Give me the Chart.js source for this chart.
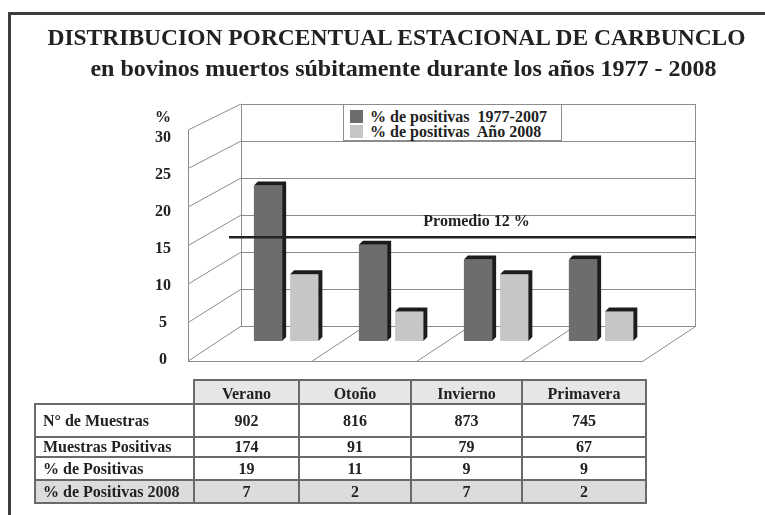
<!DOCTYPE html>
<html>
<head>
<meta charset="utf-8">
<script src="https://cdn.jsdelivr.net/npm/chart.js@4/dist/chart.umd.min.js"></script>
<style>
  body { margin: 0; background: #fff; }
  #wrap { position: relative; width: 765px; height: 515px; overflow: hidden;
          font-family: "Liberation Serif", "Times New Roman", serif; color: #222; }
  #chart { position: absolute; left: 0; top: 0; }
  .frame { position: absolute; background: #3d3d3d; }
  .title { position: absolute; left: 0; font-weight: bold; font-size: 23.5px; line-height: 23.5px;
           text-align: center; white-space: nowrap; }
  #legend { position: absolute; left: 343px; top: 104px; width: 217px; height: 35px;
            border: 1px solid #8c8c8c; background: #fff; }
  .item { position: absolute; left: 6px; font-weight: bold; font-size: 16px; line-height: 15px;
          white-space: pre; padding-left: 20px; }
  .sw { position: absolute; left: 0; top: 1px; width: 13px; height: 13px; }
  table { position: absolute; left: 34px; top: 379px; border-collapse: collapse; table-layout: fixed;
          font-weight: bold; font-size: 16px; }
  td { border: 2px solid #6a6a6a; text-align: center; padding: 0; white-space: nowrap; }
  td.lab { text-align: left; padding-left: 7px; }
  tr.head td { background: #e6e6e6; padding-top: 4px; }
  tr.head td.blank { background: none; border-top: none; border-left: none; }
  tr.last td { background: #dcdcdc; }
</style>
</head>
<body>
<div id="wrap">
  <canvas id="chart" width="765" height="515"></canvas>
  <div class="frame" style="left:8px; top:12px; width:757px; height:3px;"></div>
  <div class="frame" style="left:8px; top:12px; width:3px; height:503px;"></div>
  <div class="title" style="width:793px; top:26px;">DISTRIBUCION PORCENTUAL ESTACIONAL DE CARBUNCLO</div>
  <div class="title" style="width:807px; top:57px; font-size:24px;">en bovinos muertos súbitamente durante los años 1977 - 2008</div>
  <div id="legend"></div>
  <table id="tbl"></table>
</div>
<script>
// data
const seasons = ["Verano", "Otoño", "Invierno", "Primavera"];
const muestras = [902, 816, 873, 745];
const muestrasPositivas = [174, 91, 79, 67];
const pctPositivas = [19, 11, 9, 9];
const pct2008 = [7, 2, 7, 2];
const promedio = 12;
const seriesLabels = ["% de positivas  1977-2007", "% de positivas  Año 2008"];
const rowLabels = ["N° de Muestras", "Muestras Positivas", "% de Positivas", "% de Positivas 2008"];

// axis range: floor sits a bit below 0 because of the 3D look
const Y_MIN = -2, Y_MAX = 30, Y_STEP = 5;
const X_MIN = -0.43, X_MAX = 3.904;

const DARK = "#6d6d6d", LIGHT = "#c6c6c6", EDGE = "#1c1c1c", GRID = "#8c8c8c";
const DEPTH_X = 53, FLOOR_DY = 35, FRONT_SCALE = 1.04, SIDE = 4;
const FONT = "Liberation Serif";

const pts = vals => vals.map((v, i) => ({ x: i, y: v }));

// fake 3D walls, floor, bar sides and the average line
const depthPlugin = {
  id: "depth",
  beforeDatasetsDraw(chart) {
    const { ctx, chartArea: a, scales: { x, y } } = chart;
    const yb0 = y.getPixelForValue(0);
    const front = v => yb0 + FLOOR_DY - (yb0 - y.getPixelForValue(v)) * FRONT_SCALE;
    const fl = a.left - DEPTH_X;
    ctx.save();
    ctx.strokeStyle = GRID;
    ctx.lineWidth = 1;
    ctx.beginPath();
    y.ticks.forEach(t => {
      ctx.moveTo(a.left, y.getPixelForValue(t.value));
      ctx.lineTo(fl, front(t.value));
    });
    ctx.moveTo(fl + 0.5, front(Y_MAX));
    ctx.lineTo(fl + 0.5, front(0));
    ctx.moveTo(a.left + 0.5, a.top);
    ctx.lineTo(a.left + 0.5, yb0);
    ctx.moveTo(a.right - 0.5, a.top);
    ctx.lineTo(a.right - 0.5, yb0);
    ctx.moveTo(fl, Math.round(front(0)) + 0.5);
    ctx.lineTo(a.right - DEPTH_X, Math.round(front(0)) + 0.5);
    ctx.moveTo(a.right, yb0);
    ctx.lineTo(a.right - DEPTH_X, front(0));
    for (let i = 0; i < seasons.length - 1; i++) {
      const p = x.getPixelForValue(i + 0.5);
      ctx.moveTo(p + DEPTH_X / 2, yb0);
      ctx.lineTo(p - DEPTH_X / 2, front(0));
    }
    ctx.stroke();
    ctx.restore();
  },
  afterDatasetsDraw(chart) {
    const { ctx, chartArea: a, scales: { y } } = chart;
    ctx.save();
    ctx.fillStyle = EDGE;
    chart.data.datasets.forEach((ds, di) => {
      chart.getDatasetMeta(di).data.forEach(bar => {
        const { x: cx, y: top, base, width } = bar.getProps(["x", "y", "base", "width"], true);
        const l = cx - width / 2, r = cx + width / 2;
        ctx.beginPath();
        ctx.moveTo(l, top);
        ctx.lineTo(l + SIDE, top - SIDE);
        ctx.lineTo(r + SIDE, top - SIDE);
        ctx.lineTo(r + SIDE, base - SIDE);
        ctx.lineTo(r, base);
        ctx.lineTo(r, top);
        ctx.closePath();
        ctx.fill();
      });
    });
    // average line
    const py = y.getPixelForValue(promedio);
    ctx.strokeStyle = "#222";
    ctx.lineWidth = 2.5;
    ctx.beginPath();
    ctx.moveTo(a.left - 12, py);
    ctx.lineTo(a.right, py);
    ctx.stroke();
    ctx.fillStyle = "#222";
    ctx.font = "bold 16px " + FONT;
    ctx.textAlign = "center";
    ctx.textBaseline = "middle";
    ctx.fillText("Promedio " + promedio + " %", (a.left + a.right) / 2 + 8, py - 15);
    // unit above the y labels
    ctx.fillText("%", a.left - 78, a.top + 14);
    ctx.restore();
  }
};

const chart = new Chart(document.getElementById("chart"), {
  type: "bar",
  data: {
    datasets: [
      { label: seriesLabels[0], data: pts(pctPositivas), backgroundColor: DARK },
      { label: seriesLabels[1], data: pts(pct2008), backgroundColor: LIGHT }
    ]
  },
  options: {
    responsive: false,
    animation: false,
    datasets: { bar: { base: Y_MIN, categoryPercentage: 0.69, barPercentage: 0.78, borderWidth: 0 } },
    layout: { padding: { top: 104, right: 69, bottom: 174, left: 0 } },
    plugins: { legend: { display: false }, tooltip: { enabled: false } },
    scales: {
      x: { type: "linear", min: X_MIN, max: X_MAX, offset: false, display: false,
           ticks: { stepSize: 1, includeBounds: false } },
      y: {
        min: Y_MIN, max: Y_MAX,
        ticks: { stepSize: Y_STEP, includeBounds: false, padding: 70, crossAlign: "center",
                 labelOffset: 34, color: "#222", font: { family: FONT, weight: "bold", size: 16 } },
        grid: { color: GRID, drawTicks: false },
        border: { display: false },
        afterFit(s) { s.width = 241; }
      }
    }
  },
  plugins: [depthPlugin]
});

// legend from the datasets
const legend = document.getElementById("legend");
chart.data.datasets.forEach((ds, i) => {
  const it = document.createElement("div");
  it.className = "item";
  it.style.top = (4 + i * 15) + "px";
  it.innerHTML = '<span class="sw" style="background:' + ds.backgroundColor + '"></span>';
  it.appendChild(document.createTextNode(ds.label));
  legend.appendChild(it);
});

// data table
const tbl = document.getElementById("tbl");
const colW = [159, 105, 112, 111, 124];
const cg = document.createElement("colgroup");
colW.forEach(w => { const c = document.createElement("col"); c.style.width = w + "px"; cg.appendChild(c); });
tbl.appendChild(cg);
const rowH = [24, 33, 20, 23, 23];
const addRow = (cells, cls, h, first) => {
  const tr = document.createElement("tr");
  if (cls) tr.className = cls;
  tr.style.height = h + "px";
  cells.forEach((c, i) => {
    const td = document.createElement("td");
    if (i === 0) td.className = first;
    td.textContent = c;
    tr.appendChild(td);
  });
  tbl.appendChild(tr);
};
addRow([""].concat(seasons), "head", rowH[0], "blank");
[muestras, muestrasPositivas, pctPositivas, pct2008].forEach((vals, r) => {
  addRow([rowLabels[r]].concat(vals), r === 3 ? "last" : "", rowH[r + 1], "lab");
});
</script>
</body>
</html>
